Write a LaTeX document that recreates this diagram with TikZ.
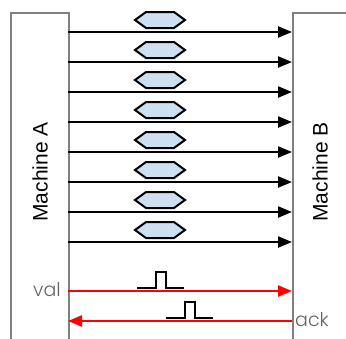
\documentclass[tikz,border=0pt]{standalone}
\usepackage{fontspec}
\setmainfont{Liberation Sans}
\newfontfamily\labfont{Poppins Light}
\usetikzlibrary{arrows.meta}
\definecolor{boxgray}{RGB}{128,128,128}
\definecolor{hexblue}{RGB}{204,224,242}
\definecolor{txtgray}{RGB}{100,100,100}
\tikzset{
  machine/.style={draw=boxgray, line width=2.2pt, minimum width=58pt, minimum height=340pt, anchor=north west, inner sep=0pt},
  mlabel/.style={font=\fontsize{21}{21}\selectfont, rotate=90},
  datawire/.style={line width=2.4pt, -{Triangle[length=14pt,width=11pt]}},
  ctrlwire/.style={line width=2.4pt, red, -{Triangle[length=14pt,width=11pt]}},
  pulse/.style={line width=2.4pt, line join=miter},
  sig/.style={font=\labfont\fontsize{19}{19}\selectfont, text=txtgray, inner sep=0pt},
  pics/token/.style={code={
    \draw[fill=hexblue, line width=2pt, line join=miter] (-25pt,0) -- (-14pt,8pt) -- (14pt,8pt) -- (25pt,0) -- (14pt,-8pt) -- (-14pt,-8pt) -- cycle;
  }},
  pics/pulsepic/.style={code={
    \draw[pulse] (-23.5pt,0) -- (-4.5pt,0) -- (-4.5pt,16pt) -- (5.5pt,16pt) -- (5.5pt,0) -- (23.5pt,0);
  }}
}
\begin{document}
\begin{tikzpicture}[x=1pt,y=-1pt]
\useasboundingbox (0,0) rectangle (346,338);
\clip (0,0) rectangle (346,338);
\node[machine] (A) at (10,12) {};
\node[machine] (B) at (292,12) {};
\node[mlabel] (LA) at (40,172) {Machine A};
\node[mlabel] (LB) at (320,172) {Machine B};
\foreach \i in {1,...,8}{
  \coordinate (a\i) at (68,{2+30*\i});
  \coordinate (b\i) at (292,{2+30*\i});
  \draw[datawire] (a\i) -- (b\i);
  \pic at (160,{-10+30*\i}) {token};
}
\coordinate (av) at (68,291);
\coordinate (bv) at (292,291);
\coordinate (aa) at (68,321);
\coordinate (ba) at (292,321);
\draw[ctrlwire] (av) -- (bv);
\draw[ctrlwire] (ba) -- (aa);
\pic at (160.5,288) {pulsepic};
\pic at (189.5,318) {pulsepic};
\node[sig, anchor=base east] (val) at (61,296.5) {val};
\node[sig, anchor=base west] (ack) at (295,326.5) {ack};
\end{tikzpicture}
\end{document}
